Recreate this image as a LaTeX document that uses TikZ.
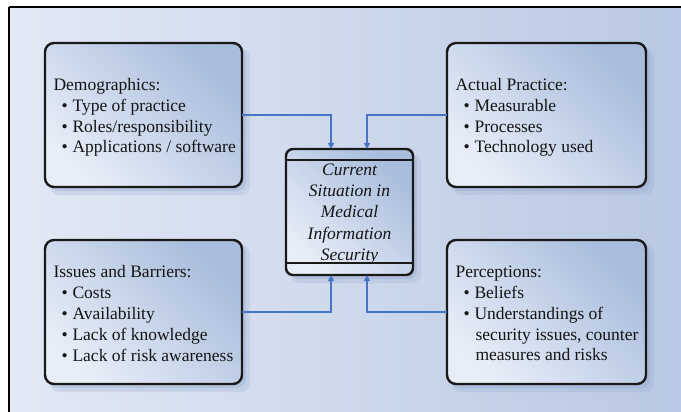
\documentclass[tikz,border=0pt]{standalone}
\usepackage{fontspec}
\setmainfont{Liberation Serif}
\usetikzlibrary{arrows.meta}
\definecolor{bglight}{RGB}{226,233,245}
\definecolor{bgdark}{RGB}{184,199,226}
\definecolor{boxlight}{RGB}{232,238,248}
\definecolor{boxdark}{RGB}{168,188,220}
\definecolor{shadowcol}{RGB}{150,170,205}
\definecolor{linkblue}{RGB}{72,116,198}
\tikzset{
  x=1pt, y=-1pt,
  topicbox/.style={rounded corners=9pt, line width=2.4pt, draw=black!90,
    left color=boxlight, right color=boxdark, shading angle=135},
  boxshadow/.style={rounded corners=9pt, fill=shadowcol, opacity=0.35},
  topictext/.style={anchor=west, align=left, font=\fontsize{17.5}{20.8}\selectfont, text=black!92},
  centertext/.style={align=center, font=\fontsize{17.5}{21.3}\selectfont\itshape, text=black!92},
  link/.style={draw=linkblue, line width=1.3pt, -{Triangle[length=6pt,width=6pt]}},
}
\newcommand{\itm}[1]{\makebox[11pt][l]{\textbullet}#1}
\begin{document}
\begin{tikzpicture}
\useasboundingbox (0,0) rectangle (681,412);
\begin{scope}
\clip (0,0) rectangle (681,412);
% outer frame with diagonal gradient
\shade[shading=axis, shading angle=135, left color=bglight, right color=bgdark]
  (9,7) rectangle (700,430);
\draw[line width=2pt, black] (9,7) -- (700,7);
\draw[line width=2pt, black] (9,7) -- (9,430);

% soft shadows behind the boxes
\foreach \x/\y/\w/\h in {45/43/197/144, 447/43/199/144, 45/240/197/144, 447/240/199/144, 286/149/127/126}{
  \fill[boxshadow, opacity=0.25] (\x+5,\y+5) rectangle ++(\w+3,\h+3);
  \fill[boxshadow, opacity=0.35] (\x+4,\y+4) rectangle ++(\w,\h);
}

% topic boxes
\path[topicbox] (45,43) rectangle (242,187);
\path[topicbox] (447,43) rectangle (646,187);
\path[topicbox] (45,240) rectangle (242,384);
\path[topicbox] (447,240) rectangle (646,384);
\coordinate (demoR) at (242,115);
\coordinate (practL) at (447,115);
\coordinate (issR) at (242,312);
\coordinate (percL) at (447,312);

% central box with its two bands
\path[topicbox, rounded corners=7pt] (286,149) rectangle (413,275);
\draw[line width=2.2pt, black!90] (286,160) -- (413,160);
\draw[line width=2.2pt, black!90] (286,263) -- (413,263);
\coordinate (cTopL) at (331,149);
\coordinate (cTopR) at (367,149);
\coordinate (cBotL) at (331,275);
\coordinate (cBotR) at (367,275);

\node[centertext] (center) at (349.5,214) {Current\\Situation in\\Medical\\Information\\Security};

% texts of the topic boxes
\node[topictext] (demo) at (50,117.5) {Demographics:\\
  \hspace{8pt}\itm{Type of practice}\\
  \hspace{8pt}\itm{Roles/responsibility}\\
  \hspace{8pt}\itm{Applications / software}};
\node[topictext] (practice) at (452,117.5) {Actual Practice:\\
  \hspace{8pt}\itm{Measurable}\\
  \hspace{8pt}\itm{Processes}\\
  \hspace{8pt}\itm{Technology used}};
\node[topictext] (issues) at (50,313.5) {Issues and Barriers:\\
  \hspace{8pt}\itm{Costs}\\
  \hspace{8pt}\itm{Availability}\\
  \hspace{8pt}\itm{Lack of knowledge}\\
  \hspace{8pt}\itm{Lack of risk awareness}};
\node[topictext] (percep) at (452,313.5) {Perceptions:\\
  \hspace{8pt}\itm{Beliefs}\\
  \hspace{8pt}\itm{Understandings of}\\
  \hspace{20pt}security issues, counter\\
  \hspace{20pt}measures and risks};

% connectors into the central box
\draw[link] (demoR) -| (cTopL);
\draw[link] (practL) -| (cTopR);
\draw[link] (issR) -| (cBotL);
\draw[link] (percL) -| (cBotR);
\end{scope}
\end{tikzpicture}
\end{document}
